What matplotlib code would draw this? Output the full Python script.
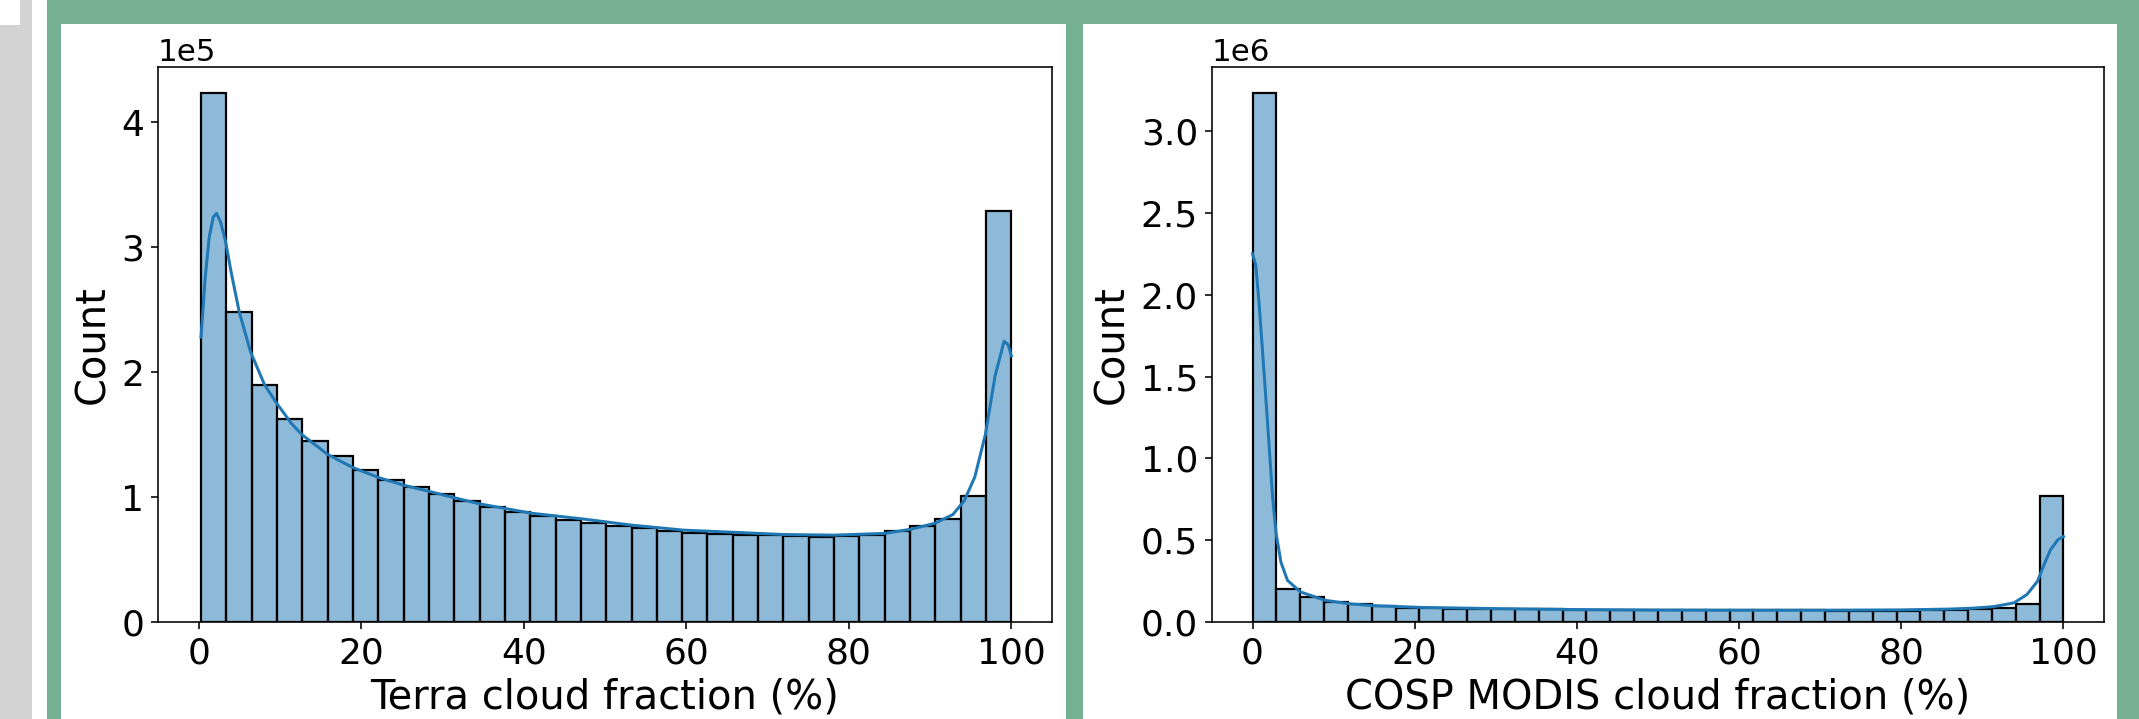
import numpy as np
import matplotlib
matplotlib.use("Agg")
import matplotlib.pyplot as plt
from matplotlib.patches import Rectangle
from matplotlib.ticker import MultipleLocator

# ---- data ----
# Terra: 32 bins from 0.29 to 100, counts in units of 1e5
terra_lo, terra_hi, terra_nbins = 0.29, 100.0, 32
terra_counts = [4.23, 2.48, 1.90, 1.627, 1.452, 1.328, 1.22, 1.139, 1.083, 1.022,
                0.971, 0.923, 0.878, 0.852, 0.817, 0.796, 0.772, 0.750, 0.732, 0.713,
                0.703, 0.700, 0.696, 0.687, 0.682, 0.687, 0.698, 0.728, 0.771, 0.825,
                1.012, 3.29]
terra_kde_x = [0.29, 0.8, 1.3, 1.8, 2.2, 2.7, 3.3, 4.0, 5.0, 6.4, 8.1, 9.5, 11.4, 12.7,
               15.9, 19.0, 22.2, 25.2, 28.4, 31.1, 34.6, 41.0, 47.2, 53.3, 59.7, 65.7,
               72.0, 78.2, 84.4, 87.6, 90.6, 92.8, 94.2, 95.5, 96.8, 98.0, 99.1, 99.6, 100.0]
terra_kde_y = [2.28, 2.75, 3.08, 3.24, 3.27, 3.20, 3.05, 2.80, 2.48, 2.16, 1.90, 1.76, 1.59, 1.50,
               1.34, 1.235, 1.155, 1.095, 1.045, 1.0, 0.945, 0.87, 0.825, 0.775, 0.735, 0.718,
               0.70, 0.695, 0.709, 0.742, 0.79, 0.86, 0.97, 1.16, 1.50, 1.97, 2.246, 2.22, 2.13]

# COSP MODIS: 34 bins from 0 to 100, counts in units of 1e6
cosp_lo, cosp_hi, cosp_nbins = 0.0, 100.0, 34
cosp_counts = [3.23, 0.204, 0.155, 0.124, 0.111, 0.100, 0.086, 0.084, 0.082, 0.080,
               0.079, 0.078, 0.077, 0.076, 0.075, 0.074, 0.074, 0.073, 0.073, 0.072,
               0.072, 0.071, 0.071, 0.071, 0.070, 0.070, 0.070, 0.070, 0.071, 0.073,
               0.077, 0.085, 0.113, 0.77]
cosp_kde_x = [0.0, 0.4, 0.8, 1.24, 1.86, 2.47, 2.9, 3.5, 4.3, 5.9, 8.9, 12.0, 14.9, 20.8,
              29.5, 40, 50, 60, 70, 80, 86, 89, 91.4, 93.9, 95.5, 96.8, 97.6, 98.4, 99.3, 100]
cosp_kde_y = [2.25, 2.18, 1.95, 1.65, 1.21, 0.765, 0.543, 0.366, 0.255, 0.184, 0.133, 0.111,
              0.100, 0.089, 0.082, 0.076, 0.073, 0.072, 0.072, 0.074, 0.079, 0.085, 0.094,
              0.117, 0.168, 0.249, 0.35, 0.441, 0.502, 0.522]

W, H, DPI = 2139, 719, 144
fig = plt.figure(figsize=(W / DPI, H / DPI), dpi=DPI, facecolor="white")


def px_rect(x0, y0, x1, y1, color):
    r = Rectangle((x0 / W, 1 - y1 / H), (x1 - x0) / W, (y1 - y0) / H,
                  transform=fig.transFigure, facecolor=color, edgecolor="none", zorder=-10)
    fig.add_artist(r)


# page background around the two panels
px_rect(0, 25, 32, 719, "#d3d3d3")
px_rect(20, 0, 32, 25, "#d3d3d3")
px_rect(47, 0, 2139, 719, "#75b092")
px_rect(61, 24, 1066, 719, "white")
px_rect(1083, 24, 2117, 719, "white")

blue = "#1f77b4"


def panel(rect_px, lo, hi, nbins, counts, kx, ky, scale, step, xlabel):
    x0, y0, x1, y1 = rect_px
    ax = fig.add_axes([x0 / W, 1 - y1 / H, (x1 - x0) / W, (y1 - y0) / H])
    edges = np.linspace(lo, hi, nbins + 1)
    ax.bar(edges[:-1], np.array(counts) * scale, width=np.diff(edges), align="edge",
           facecolor=(0.122, 0.467, 0.706, 0.5), edgecolor="black", linewidth=1.1)
    ax.plot(kx, np.array(ky) * scale, color=blue, linewidth=1.5)
    ax.set_xlim(-5, 105)
    ax.set_ylim(0, max(counts) * scale * 1.05)
    ax.yaxis.set_major_locator(MultipleLocator(step * scale))
    ax.ticklabel_format(axis="y", style="sci", scilimits=(0, 0))
    ax.tick_params(labelsize=18)
    ax.yaxis.get_offset_text().set_fontsize(15.5)
    ax.set_xlabel(xlabel, fontsize=20)
    ax.set_ylabel("Count", fontsize=20)
    return ax


panel((158, 67, 1052, 622), terra_lo, terra_hi, terra_nbins, terra_counts,
      terra_kde_x, terra_kde_y, 1e5, 1, "Terra cloud fraction (%)")
panel((1212, 67, 2104, 622), cosp_lo, cosp_hi, cosp_nbins, cosp_counts,
      cosp_kde_x, cosp_kde_y, 1e6, 0.5, "COSP MODIS cloud fraction (%)")

fig.savefig("out.png", dpi=DPI, facecolor=fig.get_facecolor())
